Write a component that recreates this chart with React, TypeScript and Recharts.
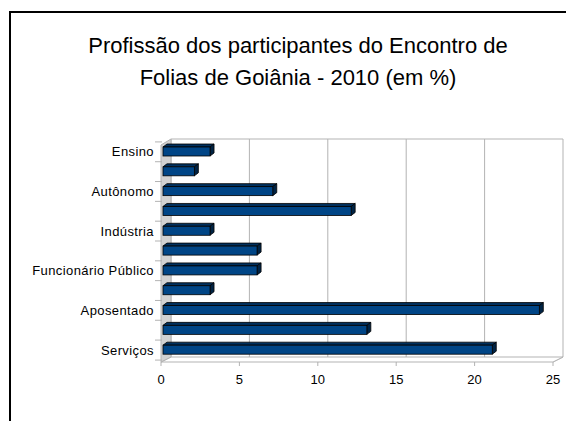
import React from 'react';
import { BarChart, Bar, XAxis, YAxis, CartesianGrid, ReferenceArea } from 'recharts';

const categories = ['Ensino', '', 'Autônomo', '', 'Indústria', '', 'Funcionário Público', '', 'Aposentado', '', 'Serviços'];
const values = [3, 2, 7, 12, 3, 6, 6, 3, 24, 13, 21];
const xTicks = [0, 5, 10, 15, 20, 25];
const titleLines = ['Profissão dos participantes do Encontro de', 'Folias de Goiânia - 2010 (em %)'];

const data = categories.map((c, i) => ({ id: i, label: c, value: values[i] }));

const FONT = '"Liberation Sans", Arial, sans-serif';
const GRID = '#b3b3b3';
const FRONT = -2; // front edge offset
const BACK_X = 8; // back wall offset x
const BACK_Y = -3; // back wall offset y

const Bar3D = (p: any) => {
  const { x, y, width: w, height: h } = p;
  if (!w || w <= 0) return null;
  const dx = 4;
  const dy = 3;
  return (
    <g>
      <polygon
        points={`${x},${y} ${x + dx},${y - dy} ${x + w + dx},${y - dy} ${x + w},${y}`}
        fill="#00305e"
        stroke="#000"
        strokeWidth={0.8}
      />
      <polygon
        points={`${x + w},${y} ${x + w + dx},${y - dy} ${x + w + dx},${y + h - dy} ${x + w},${y + h}`}
        fill="#002344"
        stroke="#000"
        strokeWidth={0.8}
      />
      <rect x={x} y={y} width={w} height={h} fill="#004586" stroke="#000" strokeWidth={0.8} />
    </g>
  );
};

const Walls = (p: any) => {
  const { x, y, width, height } = p;
  const top = y;
  const bottom = y + height;
  const fl = x + FRONT;
  const fr = x + width + FRONT;
  return (
    <g>
      <polygon
        points={`${fl},${bottom + 2} ${fr},${bottom + 2} ${fr + 10},${bottom + BACK_Y} ${fl + 10},${bottom + BACK_Y}`}
        fill="#ffffff"
        stroke={GRID}
        strokeWidth={1}
      />
      <polygon
        points={`${fl},${top + 3} ${fl + 10},${top + BACK_Y} ${fl + 10},${bottom + BACK_Y} ${fl},${bottom + 2}`}
        fill="#d2d2d2"
        stroke={GRID}
        strokeWidth={1}
      />
      <line x1={fl + 10} y1={top + BACK_Y} x2={fr + 10} y2={top + BACK_Y} stroke={GRID} strokeWidth={1} />
    </g>
  );
};

const gridLine = (p: any) => {
  const { x1, y1, y2 } = p;
  return (
    <g key={`g-${x1}`}>
      <line x1={x1 + BACK_X} y1={y1 + BACK_Y} x2={x1 + BACK_X} y2={y2 + BACK_Y} stroke={GRID} strokeWidth={1} />
      <line x1={x1 + FRONT} y1={y2 + 2} x2={x1 + BACK_X} y2={y2 + BACK_Y} stroke={GRID} strokeWidth={1} />
      <line x1={x1 + FRONT} y1={y2 + 2} x2={x1 + FRONT} y2={y2 + 6} stroke={GRID} strokeWidth={1} />
    </g>
  );
};

const YTick = (p: any) => {
  const { x, y, payload, index } = p;
  const label = categories[payload.value] ?? '';
  return (
    <g>
      <line x1={x + 1} y1={y - 10} x2={x + 8} y2={y - 10} stroke={GRID} strokeWidth={1} />
      {index === categories.length - 1 && (
        <line x1={x + 1} y1={y + 10} x2={x + 8} y2={y + 10} stroke={GRID} strokeWidth={1} />
      )}
      <text
        x={x}
        y={y}
        dy={4.5}
        textAnchor="end"
        fontFamily={FONT}
        fontSize={13}
        letterSpacing={0.4}
        fill="#000"
      >
        {label}
      </text>
    </g>
  );
};

const XTick = (p: any) => {
  const { x, y, payload } = p;
  return (
    <text x={x + FRONT} y={y} dy={24} textAnchor="middle" fontFamily={FONT} fontSize={13} fill="#000">
      {payload.value}
    </text>
  );
};

export default function App() {
  return (
    <div style={{ position: 'absolute', left: 0, top: 0, width: 566, height: 421, background: '#fff', overflow: 'hidden' }}>
      <div
        style={{
          position: 'absolute',
          left: 9,
          top: 11,
          width: 600,
          height: 500,
          borderLeft: '2px solid #000',
          borderTop: '2px solid #000',
        }}
      />
      <svg width={566} height={421} style={{ position: 'absolute', left: 0, top: 0 }}>
        {titleLines.map((t, i) => (
          <text key={i} x={298} y={53 + i * 32} textAnchor="middle" fontFamily={FONT} fontSize={22} fill="#000">
            {t}
          </text>
        ))}
      </svg>
      <div style={{ position: 'absolute', left: 0, top: 0 }}>
        <BarChart
          width={566}
          height={421}
          layout="vertical"
          data={data}
          margin={{ top: 142, right: 11, bottom: 31, left: 0 }}
          barSize={9}
        >
          <ReferenceArea x1={0} x2={25} shape={<Walls />} ifOverflow="visible" />
          <CartesianGrid horizontal={false} vertical={gridLine} />
          <XAxis
            type="number"
            domain={[0, 25]}
            ticks={xTicks}
            tickLine={false}
            axisLine={false}
            tickSize={0}
            tickMargin={0}
            height={30}
            tick={<XTick />}
            interval={0}
          />
          <YAxis
            type="category"
            dataKey="id"
            width={163}
            tickLine={false}
            axisLine={false}
            tickSize={0}
            tickMargin={9}
            interval={0}
            tick={<YTick />}
          />
          <Bar dataKey="value" isAnimationActive={false} shape={<Bar3D />} />
        </BarChart>
      </div>
    </div>
  );
}
